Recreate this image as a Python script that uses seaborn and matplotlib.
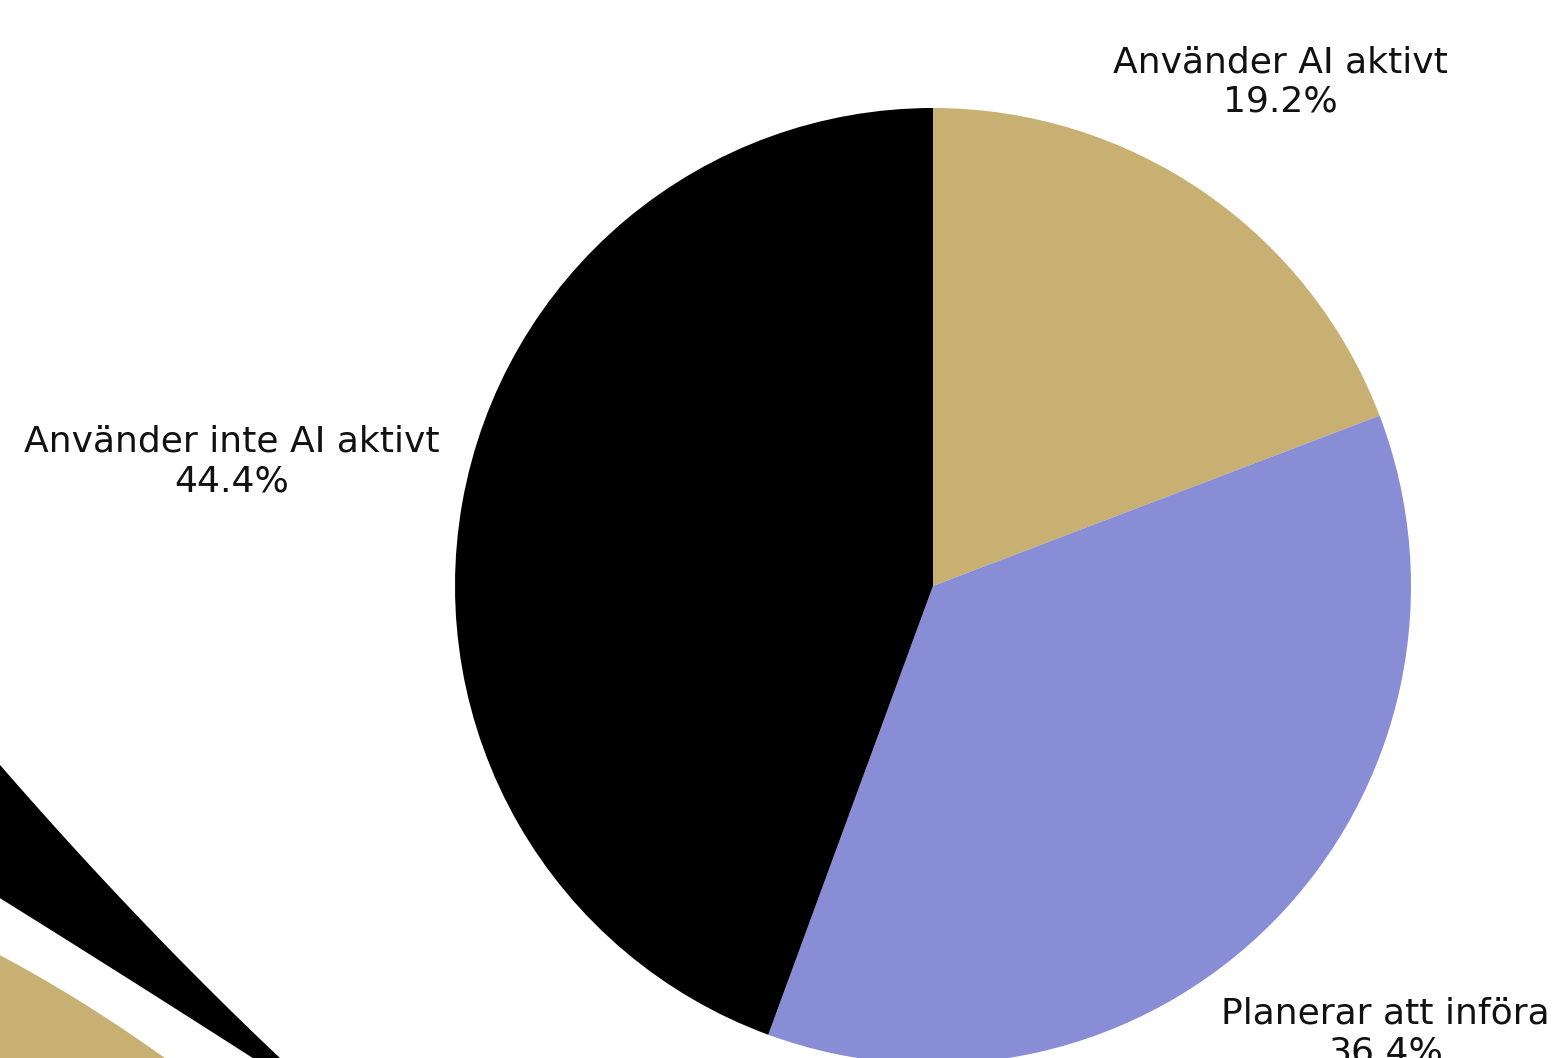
import numpy as np
import matplotlib
matplotlib.use("Agg")
import matplotlib.pyplot as plt
import seaborn as sns

# Data
categories = ["Använder AI aktivt", "Planerar att införa", "Använder inte AI aktivt"]
shares = [19.2, 36.4, 44.4]
colors = ["#C8B073", "#888DD6", "#000000"]
label_dist = [1.28, 1.33, 1.49]

sns.set_theme(style="white")
plt.rcParams["font.family"] = ["DejaVu Sans"]

W, H = 1553, 1058
fig = plt.figure(figsize=(W / 100, H / 100), dpi=100)
ax = fig.add_axes([0, 0, 1, 1])
ax.set_xlim(0, W)
ax.set_ylim(0, H)
ax.set_aspect("equal")
ax.axis("off")

cx, cy, R = 933, H - 586, 478
wedges, _ = ax.pie(shares, colors=colors, startangle=90, counterclock=False,
                   center=(cx, cy), radius=R, frame=True,
                   wedgeprops=dict(linewidth=0))
ax.set_xlim(0, W)
ax.set_ylim(0, H)
ax.axis("off")

for w, cat, val, d in zip(wedges, categories, shares, label_dist):
    th = np.deg2rad((w.theta1 + w.theta2) / 2)
    x = cx + d * R * np.cos(th)
    y = cy + d * R * np.sin(th)
    ax.text(x, y, f"{cat}\n{val:.1f}%", ha="center", va="center",
            fontsize=26, color="#111111", linespacing=1.2)

# decorative shapes at the bottom left
def edge(pts, xs):
    px, py = zip(*pts)
    c = np.polyfit(px, py, 2)
    return np.polyval(c, xs)

xs = np.linspace(-5, 300, 200)
top_black = edge([(0, 765), (110, 887), (280, 1058)], xs)
bot_black = edge([(0, 898), (110, 967), (253, 1058)], xs)
ax.fill_between(xs, H - np.minimum(top_black, 1100), H - np.minimum(bot_black, 1100),
                where=top_black < 1100, color="black", lw=0)
xt = np.linspace(-5, 200, 200)
top_tan = edge([(0, 955), (83, 1003), (165, 1058)], xt)
ax.fill_between(xt, H - top_tan, -20, color="#C8B073", lw=0)
ax.set_xlim(0, W)
ax.set_ylim(0, H)

fig.savefig("out.png", dpi=100)
